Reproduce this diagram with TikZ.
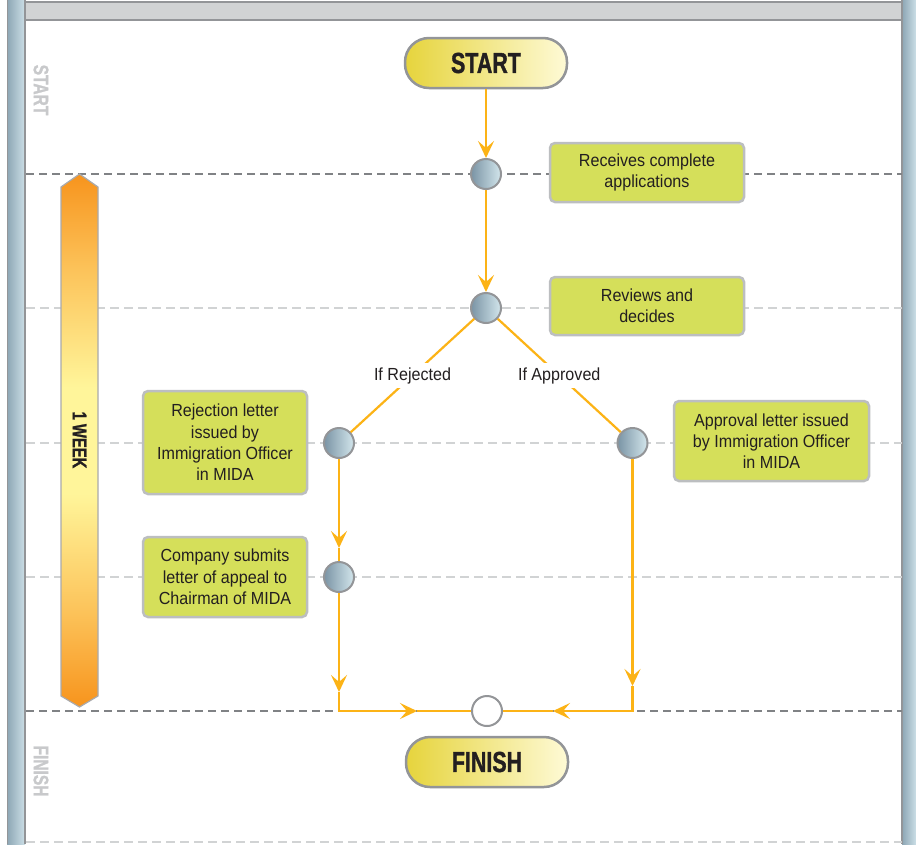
\documentclass[tikz,border=0pt]{standalone}
\usepackage{fontspec}
\setmainfont[FakeStretch=0.92]{Liberation Sans}
\newfontfamily\headfont[FakeStretch=0.74,BoldFeatures={FakeBold=1.2}]{Liberation Sans}
\usetikzlibrary{arrows.meta}
\definecolor{flowc}{HTML}{FCB316}
\definecolor{boxfill}{HTML}{D5DF5A}
\definecolor{boxedge}{HTML}{BCBEC0}
\definecolor{edgegray}{HTML}{939598}
\definecolor{headgray}{HTML}{D1D3D4}
\definecolor{darkdashc}{HTML}{808285}
\definecolor{lightdashc}{HTML}{D1D3D4}
\definecolor{stripdark}{HTML}{8DA6B4}
\definecolor{striplight}{HTML}{CCDFE7}
\definecolor{procdark}{HTML}{7A94A5}
\definecolor{proclight}{HTML}{D3E6EC}
\definecolor{pillleft}{HTML}{E6D43C}
\definecolor{pillright}{HTML}{FEFAD6}
\definecolor{weekorange}{HTML}{F7941D}
\definecolor{weekmid}{HTML}{FCC35A}
\definecolor{weekyellow}{HTML}{FFF59A}
\definecolor{txt}{HTML}{231F20}
\definecolor{sidegray}{HTML}{C8C9CB}
\pgfdeclareverticalshading{weekshade}{100bp}{color(0bp)=(weekorange); color(25bp)=(weekorange); color(34bp)=(weekmid); color(45bp)=(weekyellow); color(55bp)=(weekyellow); color(66bp)=(weekmid); color(75bp)=(weekorange); color(100bp)=(weekorange)}
\begin{document}
\begin{tikzpicture}[x=1pt,y=-1pt,
  tip/.tip={Stealth[length=17pt,width=16pt,inset=7pt]},
  flow/.style={draw=flowc,line width=2.2pt},
  darkdash/.style={draw=darkdashc,line width=2pt,dash pattern=on 8pt off 5pt},
  lightdash/.style={draw=lightdashc,line width=2pt,dash pattern=on 9pt off 5pt},
  stepbox/.style={draw=boxedge,line width=2.5pt,fill=boxfill,rounded corners=5pt,
    align=center,text=txt,inner sep=0pt,
    font=\fontsize{17.5}{21.3}\selectfont},
  proc/.style={circle,draw=edgegray,line width=2pt,left color=procdark,right color=proclight,
    minimum size=30pt,inner sep=0pt},
  endc/.style={circle,draw=edgegray,line width=2pt,fill=white,minimum size=30pt,inner sep=0pt},
  pill/.style={draw=edgegray,line width=2.5pt,rounded corners=24pt,left color=pillleft,right color=pillright,
    minimum width=162pt,minimum height=50pt,inner sep=0pt,text=txt,
    font=\headfont\bfseries\fontsize{29}{30}\selectfont},
  lab/.style={fill=white,inner sep=4pt,text=txt,font=\fontsize{17.5}{21}\selectfont},
  sidelabel/.style={rotate=-90,text=sidegray,font=\headfont\bfseries\fontsize{21}{22}\selectfont},
  weektext/.style={rotate=-90,text=txt,font=\headfont\bfseries\fontsize{20}{22}\selectfont}
]
\useasboundingbox (0,0) rectangle (916,844);
\fill[white] (0,0) rectangle (916,844);
% header bar
\draw[fill=headgray,draw=edgegray,line width=1.5pt] (25,2) rectangle (902,20);
% left strip
\shade[left color=stripdark,right color=striplight] (7,0) rectangle (25,844);
\draw[edgegray,line width=1pt] (7,0) -- (7,844);
\draw[edgegray,line width=2pt] (25,0) -- (25,844);
% right strip
\shade[left color=stripdark,right color=striplight] (902,0) rectangle (916,844);
\draw[edgegray,line width=2pt] (902,0) -- (902,844);
% lane lines
\draw[darkdash] (26,174) -- (902,174);
\draw[lightdash] (26,308) -- (902,308);
\draw[lightdash] (26,443) -- (902,443);
\draw[lightdash] (26,577) -- (902,577);
\draw[darkdash] (26,711) -- (902,711);
\draw[lightdash] (26,842) -- (902,842);
% side labels
\node[sidelabel] (lstart) at (41,90) {START};
\node[sidelabel] (lfinish) at (41,771) {FINISH};
% week bar
\path[shading=weekshade]
  (61,187) -- (79.5,174) -- (98,187) -- (98,696) -- (79.5,707) -- (61,696) -- cycle;
\draw[draw=edgegray!80,line width=1.2pt]
  (61,187) -- (79.5,174) -- (98,187) -- (98,696) -- (79.5,707) -- (61,696) -- cycle;
\node[weektext] (week) at (79.5,440) {1 WEEK};
% pills
\node[pill] (start) at (486,63) {START};
\node[pill] (finish) at (487,762) {FINISH};
% boxes
\node[stepbox,minimum width=194pt,minimum height=59pt] (b1) at (647,172.5) {Receives complete\\applications};
\node[stepbox,minimum width=194pt,minimum height=58pt] (b2) at (647,306) {Reviews and\\decides};
\node[stepbox,minimum width=164pt,minimum height=103pt] (b3) at (225,442.5) {Rejection letter\\issued by\\Immigration Officer\\in MIDA};
\node[stepbox,minimum width=164pt,minimum height=80pt] (b4) at (225,577) {Company submits\\letter of appeal to\\Chairman of MIDA};
\node[stepbox,minimum width=195pt,minimum height=80pt] (b5) at (771.5,441) {Approval letter issued\\by Immigration Officer\\in MIDA};
% circles
\node[proc] (c1) at (486,174) {};
\node[proc] (c2) at (486,308) {};
\node[proc] (c3) at (339,443) {};
\node[proc] (c4) at (632.5,443) {};
\node[proc] (c5) at (339,577) {};
\node[endc] (fin) at (487,711) {};
% connector coordinates
\coordinate (a1) at (339,548);
\coordinate (a2) at (339,692);
\coordinate (kL) at (339,711);
\coordinate (a3) at (417,711);
\coordinate (a4) at (632.5,686);
\coordinate (kR) at (632.5,711);
\coordinate (a5) at (553,711);
% connectors
\draw[flow,-tip] (start) -- (c1);
\draw[flow,-tip] (c1) -- (c2);
\draw[flow] (c2) -- node[lab] (lrej) {If Rejected} (c3);
\draw[flow] (c2) -- node[lab] (lapp) {If Approved} (c4);
\draw[flow,-tip] (c3) -- (a1);
\draw[flow] (a1) -- (c5);
\draw[flow,-tip] (c5) -- (a2);
\draw[flow,-tip] (a2) -- (kL) -- (a3);
\draw[flow] (a3) -- (fin);
\draw[flow,-tip] (c4) -- (a4);
\draw[flow,-tip] (a4) -- (kR) -- (a5);
\draw[flow] (a5) -- (fin);
\end{tikzpicture}
\end{document}
